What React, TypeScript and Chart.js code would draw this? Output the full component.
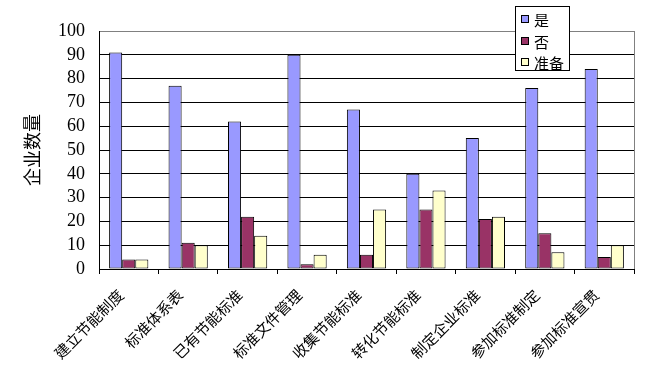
import React, { useEffect, useRef } from "react";
import { Chart, registerables } from "chart.js";

Chart.register(...registerables);

const categories = [
  "建立节能制度",
  "标准体系表",
  "已有节能标准",
  "标准文件管理",
  "收集节能标准",
  "转化节能标准",
  "制定企业标准",
  "参加标准制定",
  "参加标准宣贯",
];
const seriesNames = ["是", "否", "准备"];
const yesValues = [91, 77, 62, 90, 67, 40, 55, 76, 84];
const noValues = [4, 11, 22, 2, 6, 25, 21, 15, 5];
const prepValues = [4, 10, 14, 6, 25, 33, 22, 7, 10];
const seriesColors = ["#9999FF", "#993366", "#FFFFCC"];
const yTitle = "企业数量";

const cjk = "'Noto Sans CJK SC', sans-serif";

const legendPlugin = {
  id: "customLegend",
  afterDraw(chart: any) {
    const ctx = chart.ctx;
    const ca = chart.chartArea;
    ctx.save();
    ctx.strokeStyle = "#808080";
    ctx.lineWidth = 1;
    ctx.beginPath();
    ctx.moveTo(Math.round(ca.right) + 0.5, ca.top);
    ctx.lineTo(Math.round(ca.right) + 0.5, ca.bottom);
    ctx.stroke();

    const bx = 515.5, by = 6.5, bw = 54, bh = 64;
    ctx.fillStyle = "#ffffff";
    ctx.fillRect(bx, by, bw, bh);
    ctx.strokeStyle = "#000";
    ctx.strokeRect(bx, by, bw, bh);
    const rows = [19, 41, 62];
    chart.data.datasets.forEach((ds: any, i: number) => {
      const cy = rows[i];
      ctx.fillStyle = ds.backgroundColor;
      ctx.fillRect(521.5, cy - 3.5, 7, 7);
      ctx.strokeStyle = "#000";
      ctx.strokeRect(521.5, cy - 3.5, 7, 7);
      ctx.fillStyle = "#000";
      ctx.font = "15px " + cjk;
      ctx.textAlign = "left";
      ctx.textBaseline = "middle";
      ctx.fillText(ds.label, 534, cy + 1);
    });
    ctx.restore();
  },
};

export default function App() {
  const ref = useRef<HTMLCanvasElement>(null);
  useEffect(() => {
    if (!ref.current) return;
    const valuesList = [yesValues, noValues, prepValues];
    const chart = new Chart(ref.current, {
      type: "bar",
      data: {
        labels: categories,
        datasets: seriesNames.map((name, i) => ({
          label: name,
          data: valuesList[i],
          backgroundColor: seriesColors[i],
          borderColor: "#000",
          borderWidth: 1,
          borderSkipped: false,
          categoryPercentage: 0.66,
          barPercentage: 1,
        })),
      },
      options: {
        animation: false,
        responsive: true,
        maintainAspectRatio: false,
        layout: { padding: { top: 31, right: 12, left: 0, bottom: 0 } },
        plugins: {
          legend: { display: false },
          tooltip: { enabled: false },
        },
        scales: {
          x: {
            afterFit: (scale: any) => {
              scale.height = 111;
            },
            grid: {
              drawOnChartArea: false,
              drawTicks: true,
              tickLength: 5,
              color: "#000",
            },
            border: { color: "#000" },
            ticks: {
              autoSkip: false,
              minRotation: 45,
              maxRotation: 45,
              color: "#000",
              padding: 12,
              labelOffset: -8,
              font: { family: cjk, size: 15 },
            },
          },
          y: {
            min: 0,
            max: 100,
            afterFit: (scale: any) => {
              scale.width = 99;
            },
            grid: {
              drawTicks: false,
              color: (c: any) => (c.tick && c.tick.value === 100 ? "#808080" : "#000"),
            },
            border: { color: "#000" },
            ticks: {
              stepSize: 10,
              autoSkip: false,
              color: "#000",
              padding: 14,
              font: { family: "'Liberation Serif', serif", size: 18 },
            },
            title: {
              display: true,
              text: yTitle,
              color: "#000",
              padding: { top: 21, bottom: 0 },
              font: { family: cjk, size: 18 },
            },
          },
        },
      },
      plugins: [legendPlugin],
    });
    return () => chart.destroy();
  }, []);
  return (
    <div style={{ position: "fixed", left: 0, top: 0, width: 646, height: 380, background: "#fff" }}>
      <canvas ref={ref} />
    </div>
  );
}
